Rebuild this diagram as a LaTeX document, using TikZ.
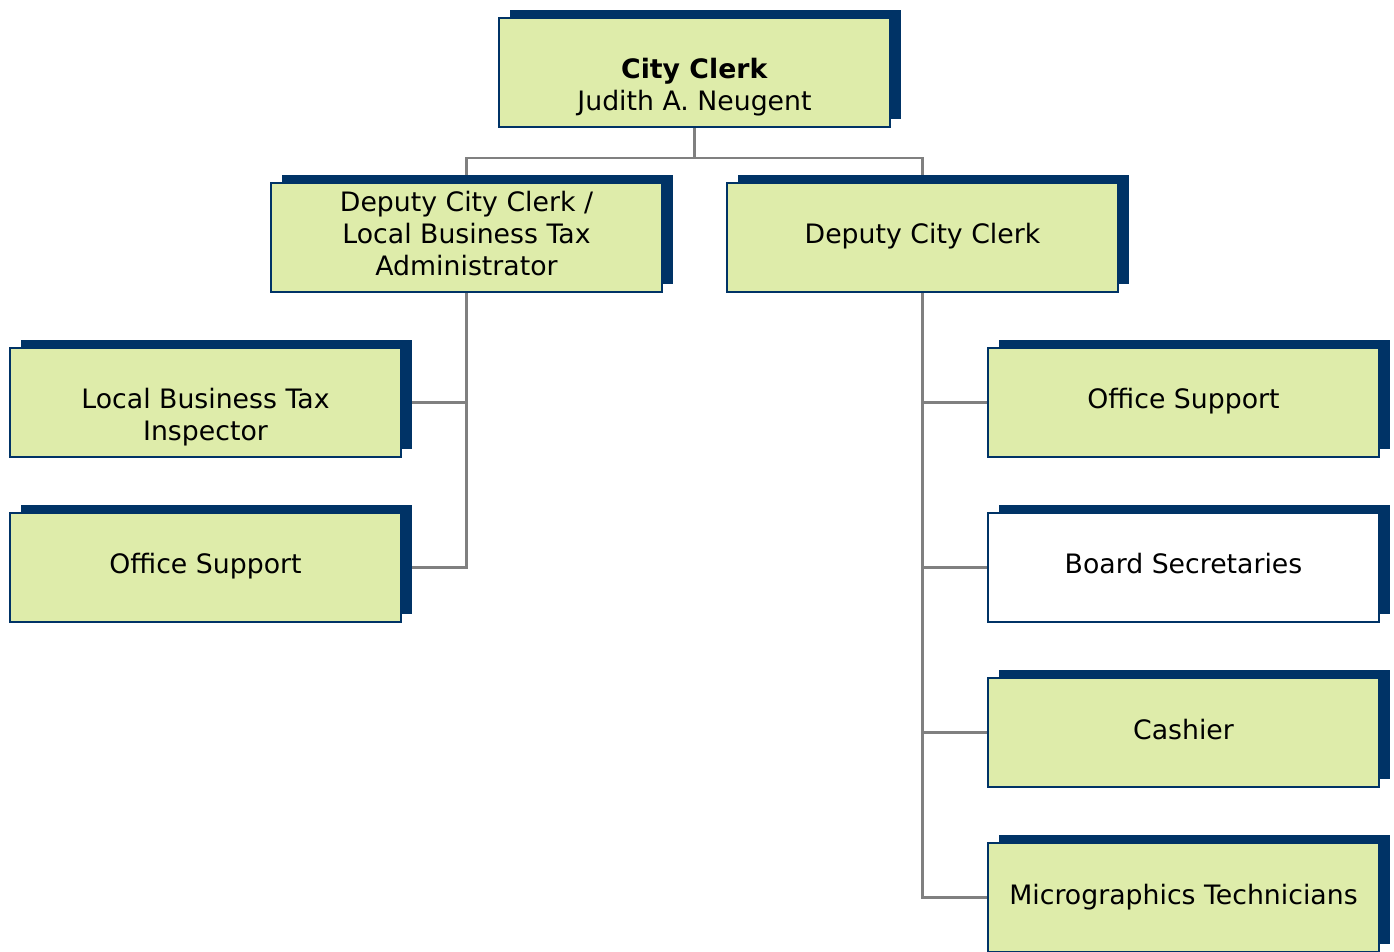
\documentclass[tikz,border=0pt]{standalone}
\usepackage{fontspec}
\setmainfont{DejaVu Sans}
\usetikzlibrary{calc,shadows,backgrounds}
\definecolor{navy}{RGB}{0,51,102}
\definecolor{dotgreen}{RGB}{222,236,170}
\definecolor{linkgray}{RGB}{128,128,128}

\begin{document}
\begin{tikzpicture}[x=0.01cm,y=-0.01cm, % pixel grid, y going down
	postbox/.style={draw=navy,line width=0.45pt,fill=dotgreen,
		minimum width=3.91cm,minimum height=1.09cm,inner sep=0pt,outer sep=0pt,
		drop shadow={shadow xshift=0.11cm,shadow yshift=0.08cm,fill=navy,opacity=1}},
	blankbox/.style={postbox,fill=white},
	posttext/.style={align=center,font=\fontsize{7.6}{9.1}\selectfont,inner sep=0pt},
	linkline/.style={draw=linkgray,line width=0.8pt}]
	\clip (0,0) rectangle (1394,952);
	% top
	\node[postbox] (clerk) at (694.5,72.5) {};
	\node[posttext] (clerk-t) at ($(clerk)+(0,15)$) {\textbf{City Clerk}\\Judith A. Neugent};
	% deputies
	\node[postbox] (admin) at (466.5,237.5) {};
	\node[posttext] (admin-t) at ($(admin)+(0,-3.5)$) {Deputy City Clerk /\\Local Business Tax\\Administrator};
	\node[postbox] (deputy) at (922.5,237.5) {};
	\node[posttext] (deputy-t) at ($(deputy)+(0,-1)$) {Deputy City Clerk};
	% left column
	\node[postbox] (inspector) at (205.5,402.5) {};
	\node[posttext] (inspector-t) at ($(inspector)+(0,14.5)$) {Local Business Tax\\Inspector};
	\node[postbox] (supportL) at (205.5,567.5) {};
	\node[posttext] (supportL-t) at ($(supportL)+(0,-1)$) {Office Support};
	% right column
	\node[postbox] (supportR) at (1183.5,402.5) {};
	\node[posttext] (supportR-t) at ($(supportR)+(0,-1)$) {Office Support};
	\node[blankbox] (boards) at (1183.5,567.5) {};
	\node[posttext] (boards-t) at ($(boards)+(0,-4)$) {Board Secretaries};
	\node[postbox] (cashier) at (1183.5,732.5) {};
	\node[posttext] (cashier-t) at ($(cashier)+(0,-3)$) {Cashier};
	\node[postbox] (micro) at (1183.5,897.5) {};
	\node[posttext] (micro-t) at ($(micro)+(0,0)$) {Micrographics Technicians};
	% connectors under the boxes
	\begin{scope}[on background layer]
		\draw[linkline] (clerk.south) -- ++(0,31) -| (admin.north);
		\draw[linkline] (clerk.south) -- ++(0,31) -| (deputy.north);
		\draw[linkline] (admin.south) |- (inspector.east);
		\draw[linkline] (admin.south) |- (supportL.east);
		\draw[linkline] (deputy.south) |- (supportR.west);
		\draw[linkline] (deputy.south) |- (boards.west);
		\draw[linkline] (deputy.south) |- (cashier.west);
		\draw[linkline] (deputy.south) |- (micro.west);
	\end{scope}
\end{tikzpicture}
\end{document}
